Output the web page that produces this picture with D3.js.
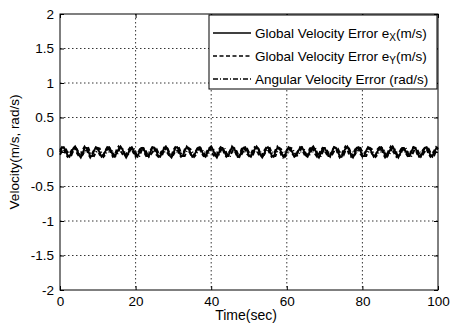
<!DOCTYPE html>
<html>
<head>
<meta charset="utf-8">
<script src="https://cdn.jsdelivr.net/npm/d3@7"></script>
<style>
  body { margin: 0; background: #fff; }
  svg { display: block; font-family: Arial, "Liberation Sans", sans-serif; }
  .grid line { stroke: #000; stroke-dasharray: 1.5 2.5; stroke-width: 0.8; }
  .tick text { font-size: 13.5px; fill: #000; }
</style>
</head>
<body>
<div id="chart"></div>
<script>
// sampled every 0.5 s from t = 0 to 100
const sampleStep = 0.5;
const xTicks = [0, 20, 40, 60, 80, 100];
const yTicks = [-2, -1.5, -1, -0.5, 0, 0.5, 1, 1.5, 2];
const yTickLabels = ['-2', '-1.5', '-1', '-0.5', '0', '0.5', '1', '1.5', '2'];

const errX = [
  0.00, 0.06, 0.07, 0.02, -0.05, -0.07,
  -0.01, 0.05, 0.08, 0.03, -0.04, -0.08,
  -0.02, 0.06, 0.06, 0.01, -0.06, -0.06,
  0.02, 0.07, 0.05, -0.01, -0.07, -0.05,
  0.01, 0.06, 0.07, 0.02, -0.05, -0.07,
  -0.01, 0.04, 0.08, 0.04, -0.03, -0.08,
  -0.03, 0.05, 0.07, 0.02, -0.05, -0.07,
  0.00, 0.06, 0.06, 0.00, -0.06, -0.06,
  0.01, 0.07, 0.06, 0.01, -0.06, -0.07,
  -0.01, 0.05, 0.08, 0.03, -0.05, -0.08,
  -0.02, 0.06, 0.07, 0.02, -0.06, -0.06,
  0.02, 0.07, 0.05, -0.01, -0.07, -0.05,
  0.01, 0.06, 0.07, 0.02, -0.05, -0.07,
  -0.01, 0.05, 0.08, 0.03, -0.04, -0.08,
  -0.02, 0.06, 0.06, 0.01, -0.06, -0.06,
  0.01, 0.07, 0.06, 0.00, -0.07, -0.06,
  0.00, 0.06, 0.07, 0.02, -0.05, -0.07,
  -0.01, 0.04, 0.08, 0.04, -0.04, -0.08,
  -0.03, 0.05, 0.07, 0.02, -0.05, -0.07,
  0.00, 0.06, 0.06, 0.00, -0.06, -0.06,
  0.02, 0.07, 0.05, -0.01, -0.07, -0.05,
  0.01, 0.06, 0.07, 0.02, -0.05, -0.07,
  -0.01, 0.05, 0.08, 0.03, -0.04, -0.08,
  -0.02, 0.06, 0.06, 0.01, -0.06, -0.06,
  0.01, 0.07, 0.06, 0.01, -0.06, -0.07,
  -0.01, 0.05, 0.08, 0.03, -0.05, -0.08,
  -0.02, 0.06, 0.07, 0.02, -0.06, -0.06,
  0.02, 0.07, 0.05, -0.01, -0.07, -0.05,
  0.01, 0.06, 0.07, 0.02, -0.05, -0.07,
  -0.01, 0.05, 0.08, 0.03, -0.04, -0.08,
  -0.02, 0.06, 0.06, 0.01, -0.06, -0.06,
  0.01, 0.07, 0.06, 0.00, -0.07, -0.06,
  0.00, 0.06, 0.07, 0.02, -0.05, -0.07,
  0.00, 0.05, 0.07
];

const errY = [
  0.03, 0.07, 0.04, -0.03, -0.07, -0.04,
  0.02, 0.07, 0.05, -0.02, -0.06, -0.05,
  0.03, 0.08, 0.04, -0.03, -0.08, -0.03,
  0.03, 0.06, 0.03, -0.04, -0.07, -0.04,
  0.02, 0.07, 0.05, -0.02, -0.07, -0.05,
  0.04, 0.08, 0.03, -0.03, -0.06, -0.03,
  0.02, 0.06, 0.04, -0.02, -0.07, -0.05,
  0.03, 0.07, 0.05, -0.03, -0.08, -0.04,
  0.03, 0.08, 0.04, -0.04, -0.07, -0.03,
  0.02, 0.06, 0.03, -0.02, -0.06, -0.05,
  0.03, 0.07, 0.05, -0.03, -0.07, -0.04,
  0.04, 0.08, 0.04, -0.03, -0.08, -0.03,
  0.02, 0.07, 0.04, -0.02, -0.06, -0.05,
  0.03, 0.06, 0.03, -0.04, -0.07, -0.04,
  0.03, 0.07, 0.05, -0.03, -0.07, -0.04,
  0.02, 0.08, 0.04, -0.02, -0.08, -0.05,
  0.04, 0.07, 0.03, -0.03, -0.06, -0.03,
  0.03, 0.07, 0.05, -0.03, -0.07, -0.04,
  0.02, 0.06, 0.04, -0.02, -0.07, -0.05,
  0.03, 0.08, 0.04, -0.04, -0.08, -0.03,
  0.03, 0.07, 0.03, -0.03, -0.06, -0.04,
  0.02, 0.07, 0.05, -0.02, -0.07, -0.05,
  0.04, 0.08, 0.04, -0.03, -0.07, -0.03,
  0.03, 0.06, 0.03, -0.03, -0.06, -0.04,
  0.02, 0.07, 0.05, -0.02, -0.08, -0.05,
  0.03, 0.08, 0.04, -0.04, -0.07, -0.03,
  0.03, 0.07, 0.04, -0.03, -0.07, -0.04,
  0.02, 0.06, 0.03, -0.02, -0.06, -0.05,
  0.04, 0.07, 0.05, -0.03, -0.08, -0.04,
  0.03, 0.08, 0.04, -0.03, -0.07, -0.03,
  0.02, 0.07, 0.04, -0.02, -0.06, -0.05,
  0.03, 0.07, 0.05, -0.03, -0.07, -0.04,
  0.03, 0.06, 0.04, -0.03, -0.07, -0.04,
  0.02, 0.07, 0.04
];

const errAng = [
  -0.04, 0.01, 0.06, 0.05, -0.01, -0.06,
  -0.05, 0.02, 0.07, 0.04, -0.02, -0.06,
  -0.04, 0.01, 0.05, 0.06, -0.01, -0.05,
  -0.06, 0.00, 0.06, 0.05, -0.02, -0.07,
  -0.04, 0.02, 0.06, 0.04, -0.01, -0.06,
  -0.05, 0.01, 0.07, 0.05, -0.02, -0.05,
  -0.04, 0.02, 0.05, 0.06, -0.01, -0.06,
  -0.06, 0.01, 0.06, 0.04, -0.02, -0.07,
  -0.04, 0.00, 0.06, 0.05, -0.01, -0.05,
  -0.05, 0.02, 0.07, 0.05, -0.02, -0.06,
  -0.04, 0.01, 0.05, 0.06, -0.01, -0.06,
  -0.06, 0.01, 0.06, 0.04, -0.02, -0.07,
  -0.04, 0.02, 0.06, 0.05, -0.01, -0.05,
  -0.05, 0.01, 0.07, 0.05, -0.02, -0.06,
  -0.04, 0.02, 0.05, 0.06, -0.01, -0.06,
  -0.06, 0.00, 0.06, 0.04, -0.02, -0.07,
  -0.04, 0.01, 0.06, 0.05, -0.01, -0.05,
  -0.05, 0.02, 0.07, 0.05, -0.02, -0.06,
  -0.04, 0.01, 0.05, 0.06, -0.01, -0.06,
  -0.06, 0.01, 0.06, 0.04, -0.02, -0.07,
  -0.04, 0.02, 0.06, 0.05, -0.01, -0.05,
  -0.05, 0.01, 0.07, 0.05, -0.02, -0.06,
  -0.04, 0.02, 0.05, 0.06, -0.01, -0.06,
  -0.06, 0.00, 0.06, 0.04, -0.02, -0.07,
  -0.04, 0.01, 0.06, 0.05, -0.01, -0.05,
  -0.05, 0.02, 0.07, 0.05, -0.02, -0.06,
  -0.04, 0.01, 0.05, 0.06, -0.01, -0.06,
  -0.06, 0.01, 0.06, 0.04, -0.02, -0.07,
  -0.04, 0.02, 0.06, 0.05, -0.01, -0.05,
  -0.05, 0.01, 0.07, 0.05, -0.02, -0.06,
  -0.04, 0.02, 0.05, 0.06, -0.01, -0.06,
  -0.06, 0.00, 0.06, 0.04, -0.02, -0.07,
  -0.04, 0.01, 0.06, 0.05, -0.01, -0.05,
  -0.05, 0.02, 0.06
];

const seriesNames = ['Global Velocity Error e', 'Global Velocity Error e', 'Angular Velocity Error (rad/s)'];
const seriesSubs = ['X', 'Y', null];
const seriesDash = [null, '4 2.5', '5 2 1 2'];

const W = 456, H = 325;
const margin = { top: 14, right: 18, bottom: 35, left: 60 };
const w = W - margin.left - margin.right;
const h = H - margin.top - margin.bottom;

const svg = d3.select('#chart').append('svg')
  .attr('width', W)
  .attr('height', H);
const g = svg.append('g')
  .attr('transform', `translate(${margin.left},${margin.top})`);

const x = d3.scaleLinear().domain([0, 100]).range([0, w]);
const y = d3.scaleLinear().domain([-2, 2]).range([h, 0]);

// dotted grid
const grid = g.append('g').attr('class', 'grid');
grid.selectAll('.gx').data(xTicks.slice(1, -1)).enter().append('line')
  .attr('x1', d => x(d)).attr('x2', d => x(d))
  .attr('y1', 0).attr('y2', h);
grid.selectAll('.gy').data(yTicks.slice(1, -1)).enter().append('line')
  .attr('x1', 0).attr('x2', w)
  .attr('y1', d => y(d)).attr('y2', d => y(d));

// series
const line = d3.line()
  .x((d, i) => x(i * sampleStep))
  .y(d => y(d));
[errX, errY, errAng].forEach((vals, k) => {
  g.append('path')
    .datum(vals)
    .attr('fill', 'none')
    .attr('stroke', '#000')
    .attr('stroke-width', 1.9)
    .attr('stroke-dasharray', seriesDash[k])
    .attr('d', line);
});

// axes, ticks pointing inward (all four sides)
const axisStyle = sel => {
  sel.select('.domain').remove();
  sel.selectAll('.tick line').attr('stroke', '#000');
};
g.append('g').attr('transform', `translate(0,${h})`)
  .call(d3.axisBottom(x).tickValues(xTicks).tickSizeInner(-4).tickPadding(6))
  .call(axisStyle)
  .selectAll('text').attr('dy', '0.71em');
g.append('g')
  .call(d3.axisTop(x).tickValues(xTicks).tickSizeInner(-4).tickFormat(''))
  .call(axisStyle);
g.append('g')
  .call(d3.axisLeft(y).tickValues(yTicks).tickSizeInner(-4).tickPadding(6)
    .tickFormat((d, i) => yTickLabels[i]))
  .call(axisStyle);
g.append('g').attr('transform', `translate(${w},0)`)
  .call(d3.axisRight(y).tickValues(yTicks).tickSizeInner(-4).tickFormat(''))
  .call(axisStyle);

g.append('rect')
  .attr('width', w).attr('height', h)
  .attr('fill', 'none').attr('stroke', '#000').attr('stroke-width', 1);

// axis titles
svg.append('text')
  .attr('x', margin.left + w / 2 - 3)
  .attr('y', H - 5)
  .attr('text-anchor', 'middle')
  .attr('font-size', 14)
  .text('Time(sec)');
svg.append('text')
  .attr('transform', `translate(19,${margin.top + h / 2}) rotate(-90)`)
  .attr('text-anchor', 'middle')
  .attr('font-size', 13.5)
  .text('Velocity(m/s, rad/s)');

// legend
const lg = g.append('g').attr('transform', `translate(${w - 229},1)`);
lg.append('rect')
  .attr('width', 228).attr('height', 74)
  .attr('fill', '#fff').attr('stroke', '#000').attr('stroke-width', 1);
seriesNames.forEach((name, k) => {
  const cy = 18 + k * 23;
  lg.append('line')
    .attr('x1', 4).attr('x2', 42)
    .attr('y1', cy).attr('y2', cy)
    .attr('stroke', '#000').attr('stroke-width', 1.4)
    .attr('stroke-dasharray', seriesDash[k]);
  const t = lg.append('text')
    .attr('x', 46).attr('y', cy + 5)
    .attr('font-size', 13.5)
    .text(name);
  if (seriesSubs[k]) {
    t.append('tspan').attr('font-size', 10).attr('dy', 3).text(seriesSubs[k]);
    t.append('tspan').attr('dy', -3).text('(m/s)');
  }
});
</script>
</body>
</html>
